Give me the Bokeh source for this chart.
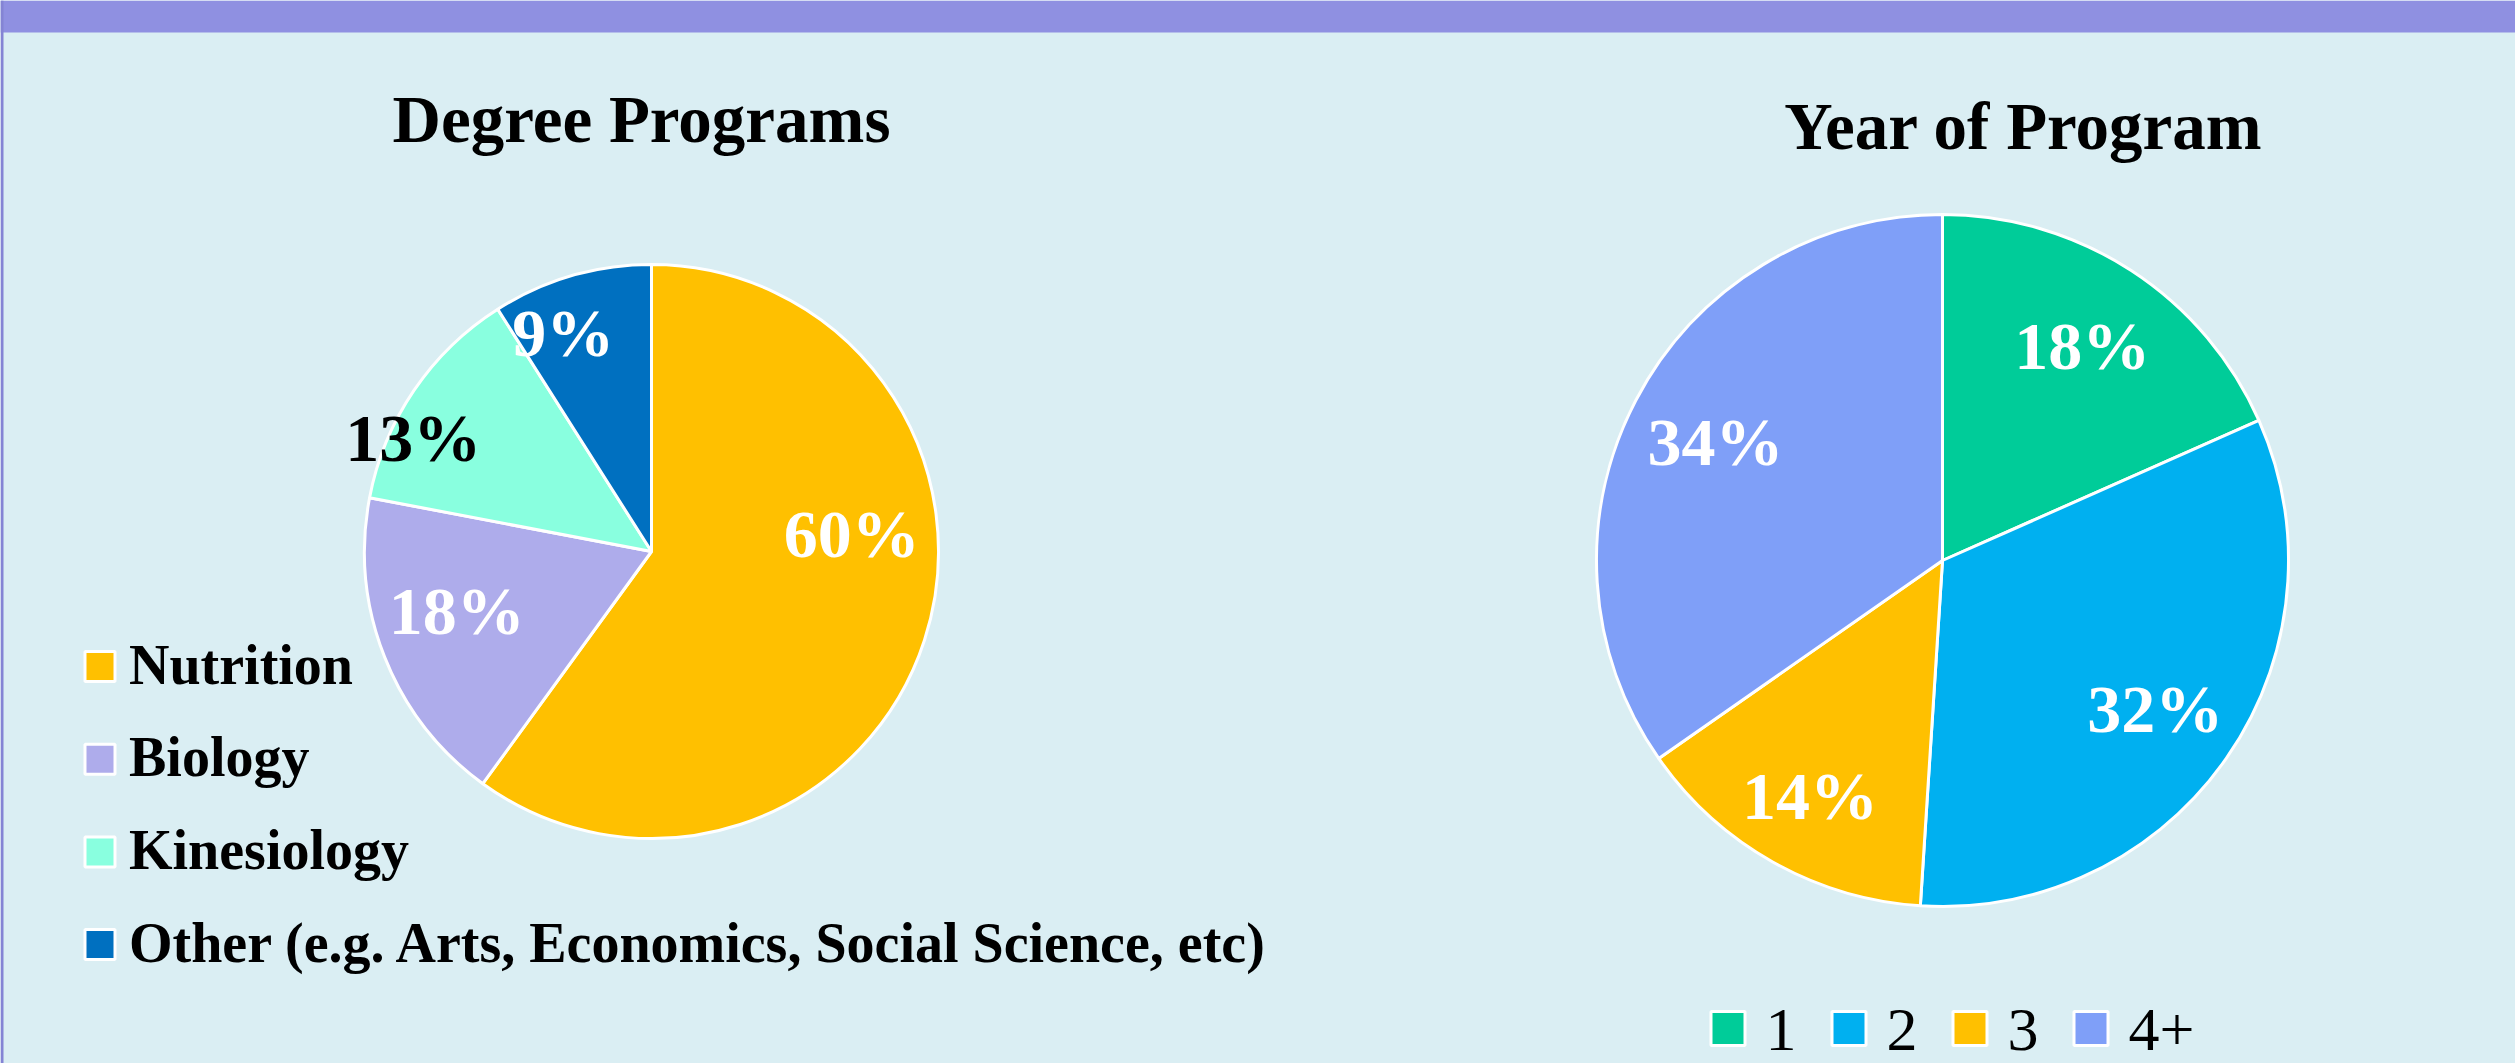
import numpy as np
from bokeh.plotting import figure
from bokeh.models import Range1d, ColumnDataSource
from bokeh.core.properties import value
from bokeh.embed import file_html
from bokeh.resources import INLINE

# ---------------- data ----------------
degree_title = "Degree Programs"
degree_categories = ["Nutrition", "Biology", "Kinesiology",
                     "Other (e.g. Arts, Economics, Social Science, etc)"]
degree_values = [60, 18, 13, 9]
degree_colors = ["#FFC000", "#AEACEB", "#89FFDF", "#0070C0"]
degree_label_colors = ["white", "white", "black", "white"]

year_title = "Year of Program"
year_categories = ["1", "2", "3", "4+"]
year_values = [18, 32, 14, 34]
year_colors = ["#00CC99", "#00B0F0", "#FFC000", "#7F9FF8"]
year_label_colors = ["white", "white", "white", "white"]

# ---------------- layout / style ----------------
W, H = 2515, 1063
BG = "#DAEEF3"
BAND = "#8F90E1"
FONT = value("Liberation Serif")

# label placement (fraction of radius, angle nudge in degrees)
degree_label_r = [0.70, 0.71, 0.92, 0.82]
degree_label_shift = [-23, 4.6, -8.7, -5.8]
year_label_r = [0.74, 0.75, 0.78, 0.74]
year_label_shift = [0, 0, 0, 0]

p = figure(width=W, height=H, x_range=Range1d(0, W), y_range=Range1d(0, H),
           x_axis_type=None, y_axis_type=None, output_backend="svg",
           toolbar_location=None, min_border=0, min_border_left=0,
           min_border_right=0, min_border_top=0, min_border_bottom=0)
p.grid.visible = False
p.outline_line_color = None
p.background_fill_color = BG
p.border_fill_color = BG

# top band and left edge
p.quad(left=0, right=W, bottom=H - 32, top=H, fill_color=BAND, line_color=None)
p.quad(left=0, right=3, bottom=0, top=H, fill_color="#8484D4", line_color=None)


def pie(cx, cy, R, values, colors, label_colors, label_r, label_shift):
    vals = np.array(values, dtype=float)
    frac = vals / vals.sum()
    cum = np.concatenate([[0.0], np.cumsum(frac)])
    th1 = cum[:-1] * 2 * np.pi          # clockwise from top
    th2 = cum[1:] * 2 * np.pi
    src = ColumnDataSource(dict(
        start=np.pi / 2 - th2, end=np.pi / 2 - th1, color=colors))
    p.wedge(x=cx, y=cy, radius=R, start_angle="start", end_angle="end",
            fill_color="color", line_color="white", line_width=3, source=src)
    mid = (th1 + th2) / 2 + np.radians(label_shift)
    r = np.array(label_r) * R
    lx = cx + r * np.sin(mid)
    ly = cy + r * np.cos(mid)
    labels = [f"{v:g}%" for v in values]
    p.text(x=lx, y=ly, text=labels, text_color=label_colors, text_font=FONT,
           text_font_style="bold", text_font_size="68px",
           text_align="center", text_baseline="middle")


# left pie
pie(651, 512, 287, degree_values, degree_colors, degree_label_colors,
    degree_label_r, degree_label_shift)
# right pie
pie(1942, 503, 346, year_values, year_colors, year_label_colors,
    year_label_r, year_label_shift)

# titles
p.text(x=[641, 2023], y=[945, 938], text=[degree_title, year_title],
       text_color="black", text_font=FONT, text_font_style="bold",
       text_font_size="67px", text_align="center", text_baseline="middle")

# left legend (vertical)
n = len(degree_categories)
ly = 397 - 92.7 * np.arange(n)
p.scatter(x=[99.5] * n, y=ly, marker="square", size=30,
          fill_color=degree_colors, line_color="white", line_width=3)
p.text(x=[128.5] * n, y=ly + 2, text=degree_categories, text_color="black",
       text_font=FONT, text_font_style="bold", text_font_size="56px",
       text_align="left", text_baseline="middle")

# right legend (horizontal)
m = len(year_categories)
lx = 1727.5 + 121 * np.arange(m)
p.scatter(x=lx, y=[35] * m, marker="square", size=34,
          fill_color=year_colors, line_color="white", line_width=3)
p.text(x=lx + 37.5, y=[34] * m, text=year_categories, text_color="black",
       text_font=FONT, text_font_size="62px",
       text_align="left", text_baseline="middle")

open("out.html", "w").write(file_html(p, INLINE))
